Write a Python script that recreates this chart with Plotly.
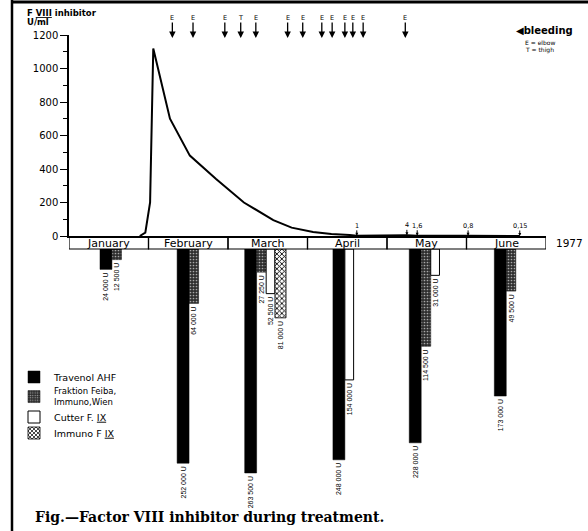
import plotly.graph_objects as go

W, H = 588, 531

def px_x(p):
    return p / W

def px_y(p):
    return 1 - p / H

# ---------------- data ----------------
months = ["January", "February", "March", "April", "May", "June"]
year_label = "1977"

# F VIII inhibitor (U/ml); time in month units (0 = start of January)
inh_t = [0.89, 0.96, 1.02, 1.06, 1.27, 1.52, 1.85, 2.20, 2.57, 2.80, 3.07, 3.30, 3.53, 3.62, 4.25, 4.38, 5.02, 5.67]
inh_v = [0, 20, 200, 1120, 700, 480, 340, 200, 95, 50, 24, 12, 6, 1, 4, 1.6, 0.8, 0.15]

# labelled late inhibitor values
val_t = [3.62, 4.25, 4.38, 5.02, 5.67]
val_v = [1, 4, 1.6, 0.8, 0.15]
val_lbl = ["1", "4", "1,6", "0,8", "0,15"]

# bleeding episodes
bleed_t = [1.30, 1.56, 1.96, 2.16, 2.35, 2.75, 2.94, 3.18, 3.31, 3.47, 3.57, 3.70, 4.23]
bleed_site = ["E", "E", "E", "T", "E", "E", "E", "E", "E", "E", "E", "E", "E"]

# monthly doses (U)
travenol = [24000, 252000, 263500, 248000, 228000, 173000]
feiba = [12500, 64000, 27250, None, 114500, 49500]
cutter = [None, None, 52500, 154000, 31000, None]
immuno = [None, None, 81000, None, None, None]

series_names = ["Travenol AHF", "Fraktion Feiba,<br>Immuno,Wien",
                "Cutter F. <u>IX</u>", "Immuno F <u>IX</u>"]
series_vals = [travenol, feiba, cutter, immuno]

# ---------------- layout helpers ----------------
group_start = [0.39, 0.36, 0.21, 0.32, 0.28, 0.35]   # bar group offset inside month
bar_w = [0.15, 0.12, 0.11, 0.14]
legend_ids = ["legend", "legend2", "legend3", "legend4"]
legend_ypx = [377, 397, 417, 433]
legend_fs = [9.5, 8.5, 9.5, 9.5]

styles = [
    dict(color="black", line=dict(color="black", width=0.5)),
    dict(color="#2e2e2e", line=dict(color="black", width=0.5),
         pattern=dict(shape=".", fgcolor="#a8a8a8", bgcolor="#2e2e2e", size=3, solidity=0.25)),
    dict(color="white", line=dict(color="black", width=1)),
    dict(color="white", line=dict(color="black", width=0.8),
         pattern=dict(shape="x", fgcolor="black", bgcolor="white", size=3.5, solidity=0.45)),
]

def fmt(v):
    return f"{v:,}".replace(",", " ") + " U"

pos = [[None] * 6 for _ in series_vals]
for m in range(6):
    cur = m + group_start[m]
    for s, vals in enumerate(series_vals):
        if vals[m] is not None:
            pos[s][m] = cur + bar_w[s] / 2
            cur += bar_w[s]

fig = go.Figure()

fig.add_trace(go.Scatter(x=inh_t, y=inh_v, mode="lines", xaxis="x", yaxis="y",
                         line=dict(color="black", width=2), showlegend=False,
                         hoverinfo="skip"))

for s, vals in enumerate(series_vals):
    xs, ys, ws, txt = [], [], [], []
    for m in range(6):
        if vals[m] is not None:
            xs.append(pos[s][m]); ys.append(vals[m]); ws.append(bar_w[s]); txt.append(fmt(vals[m]))
    fig.add_trace(go.Bar(x=xs, y=ys, width=ws, xaxis="x", yaxis="y2",
                         name=series_names[s], marker=styles[s], legend=legend_ids[s],
                         text=txt, textposition="outside", textangle=-90,
                         textfont=dict(size=7, family="Liberation Sans Narrow, Liberation Sans", color="black"),
                         constraintext="none", cliponaxis=False))

shapes = []
annotations = []

def note(xp, yp, text, size, family="DejaVu Sans", xanchor="left"):
    annotations.append(dict(x=px_x(xp), y=px_y(yp), xref="paper", yref="paper",
                            xanchor=xanchor, yanchor="middle", text=text, showarrow=False,
                            font=dict(size=size, family=family, color="black")))

for i, mname in enumerate(months):
    shapes.append(dict(type="rect", xref="x", yref="paper", x0=i, x1=i + 1,
                       y0=px_y(249), y1=px_y(237), line=dict(color="black", width=1.2)))
    annotations.append(dict(x=i + 0.5, y=px_y(243), xref="x", yref="paper", text=mname,
                            xanchor="center", yanchor="middle",
                            showarrow=False, font=dict(size=11, family="DejaVu Sans", color="black")))
note(569, 243, year_label, 10.5, xanchor="center")

for t, site in zip(bleed_t, bleed_site):
    annotations.append(dict(x=t, y=px_y(38), xref="x", yref="paper", text=site,
                            showarrow=True, ax=0, ay=-20, arrowhead=2, arrowsize=1,
                            arrowwidth=1.3, arrowcolor="black", borderpad=0,
                            font=dict(size=6.5, family="DejaVu Sans", color="black")))

for t, v, lbl in zip(val_t, val_v, val_lbl):
    annotations.append(dict(x=t, y=v, xref="x", yref="y", text=lbl, showarrow=True,
                            ax=0, ay=-10, arrowhead=2, arrowsize=0.6, arrowwidth=1,
                            arrowcolor="black", borderpad=0,
                            font=dict(size=6.5, family="DejaVu Sans", color="black")))

note(25, 13, "<b>F <u>VIII</u> inhibitor</b>", 8.5)
note(25, 22, "<b>U/ml</b>", 8.5)
note(514, 31, "<b>◀bleeding</b>", 10)
note(523, 43, "E = elbow", 6)
note(523, 50, "T = thigh", 6)
note(33, 517, "<b>Fig.—Factor VIII inhibitor during treatment.</b>", 14, family="DejaVu Serif")

shapes.append(dict(type="line", xref="paper", yref="paper", x0=px_x(12), x1=px_x(12), y0=0, y1=1,
                   line=dict(color="black", width=2.5)))
shapes.append(dict(type="line", xref="paper", yref="paper", x0=px_x(11), x1=1, y0=px_y(2), y1=px_y(2),
                   line=dict(color="black", width=3)))

legends = {}
for lid, ypx, fs in zip(legend_ids, legend_ypx, legend_fs):
    legends[lid] = dict(x=px_x(14), y=px_y(ypx), xanchor="left", yanchor="middle",
                        font=dict(size=fs, family="DejaVu Sans", color="black"),
                        itemwidth=30, bgcolor="rgba(0,0,0,0)", borderwidth=0)

fig.update_layout(
    template="none",
    width=W, height=H, margin=dict(l=0, r=0, t=0, b=0, autoexpand=False),
    paper_bgcolor="white", plot_bgcolor="white",
    font=dict(family="DejaVu Sans", color="black"),
    barmode="overlay",
    xaxis=dict(domain=[px_x(69), px_x(546)], range=[0, 6], anchor="y", automargin=False,
               showline=True, linecolor="black", linewidth=1.5, showgrid=False,
               zeroline=False, showticklabels=False, ticks=""),
    yaxis=dict(domain=[px_y(236), px_y(35)], range=[0, 1200], anchor="x", automargin=False,
               tickvals=[0, 200, 400, 600, 800, 1000, 1200], ticks="outside", ticklen=7,
               tickwidth=1, tickcolor="black", showline=True, linecolor="black", linewidth=1.5,
               showgrid=False, zeroline=False,
               tickfont=dict(size=10, family="DejaVu Sans", color="black"),
               minor=dict(dtick=100, ticks="outside", ticklen=4, tickcolor="black", showgrid=False)),
    yaxis2=dict(domain=[0, px_y(249)], range=[282 / 0.85 * 1000, 0], anchor="x",
                visible=False, showgrid=False, automargin=False),
    shapes=shapes, annotations=annotations,
    **legends,
)

fig.write_html("out.html")
